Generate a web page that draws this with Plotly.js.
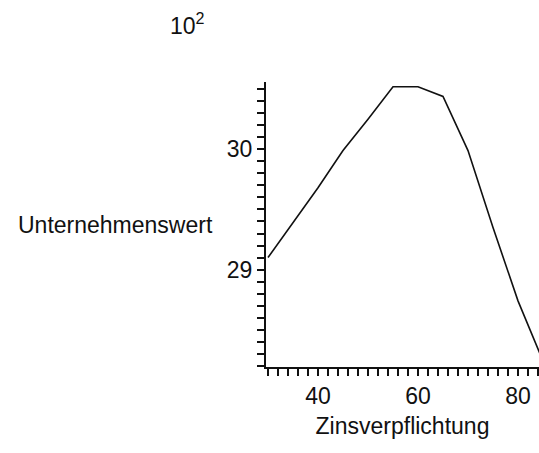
<!DOCTYPE html>
<html>
<head>
<meta charset="utf-8">
<script src="https://cdn.plot.ly/plotly-3.0.1.min.js"></script>
<style>html,body{margin:0;padding:0;background:#fff;}#chart{width:539px;height:453px;}</style>
</head>
<body>
<div id="chart"></div>
<script>
// Zinsverpflichtung (x) vs. Unternehmenswert in units of 10^2 (y)
const zinsverpflichtung = [30, 35, 40, 45, 50, 55, 60, 65, 70, 75, 80, 85];
const unternehmenswert = [29.10, 29.39, 29.68, 29.99, 30.25, 30.52, 30.52, 30.44, 29.99, 29.35, 28.74, 28.24];
const xTickVals = [40, 60, 80];
const yTickVals = [29, 30];
const xTitle = "Zinsverpflichtung";
const yTitle = "Unternehmenswert";
const yScaleLabel = "10<sup>2</sup>";

const font = {family: "Liberation Sans, Arial, sans-serif", size: 23, color: "#111"};

const trace = {
  x: zinsverpflichtung,
  y: unternehmenswert,
  type: "scatter",
  mode: "lines",
  line: {color: "#111", width: 1.6},
  hoverinfo: "skip"
};

const layout = {
  width: 539, height: 453,
  margin: {l: 266, r: 0, t: 82, b: 86, pad: 0},
  paper_bgcolor: "#fff", plot_bgcolor: "#fff",
  showlegend: false,
  font: font,
  xaxis: {
    range: [29.6, 84.2],
    showgrid: false, zeroline: false,
    showline: true, linecolor: "#111", linewidth: 2,
    ticks: "outside", ticklen: 7, tickwidth: 2, tickcolor: "#111",
    tickmode: "array", tickvals: xTickVals, ticktext: xTickVals.map(String),
    tickfont: font,
    minor: {dtick: 2, tick0: 0, ticks: "outside", ticklen: 7, tickwidth: 2, tickcolor: "#111", showgrid: false},
    title: {text: xTitle, font: font, standoff: 10}
  },
  yaxis: {
    range: [28.19, 30.56],
    showgrid: false, zeroline: false,
    showline: true, linecolor: "#111", linewidth: 2,
    ticks: "outside", ticklen: 7, tickwidth: 2, tickcolor: "#111",
    tickmode: "array", tickvals: yTickVals, ticktext: yTickVals.map(String),
    tickfont: font,
    minor: {dtick: 0.1, tick0: 0, ticks: "outside", ticklen: 7, tickwidth: 2, tickcolor: "#111", showgrid: false}
  },
  annotations: [
    {text: yTitle, xref: "paper", yref: "paper", x: -0.553, y: 0.498, xanchor: "center", yanchor: "middle", showarrow: false, font: font},
    {text: yScaleLabel, xref: "paper", yref: "paper", x: -0.289, y: 1.205, xanchor: "center", yanchor: "middle", showarrow: false, font: font}
  ]
};

Plotly.newPlot("chart", [trace], layout, {staticPlot: true, displayModeBar: false});
</script>
</body>
</html>
